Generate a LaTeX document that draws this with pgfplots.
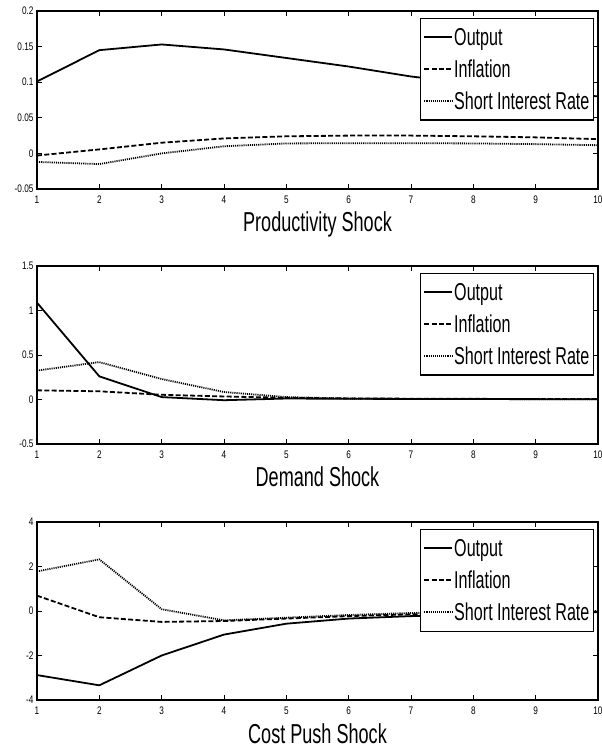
\documentclass[border=0pt]{standalone}
\usepackage{fontspec}
\setmainfont{Liberation Sans}[FakeStretch=0.66]
\newfontfamily\tickfont{Liberation Sans}[FakeStretch=0.75]
\usepackage{pgfplots}
\pgfplotsset{compat=1.18}
\pgfplotsset{
  irf/.style={
    scale only axis, width=561bp, height=178bp,
    xmin=1, xmax=10, xtick={1,...,10},
    xticklabels={1,2,3,4,5,6,7,8,9,10},
    tick align=inside, tick pos=both, major tick length=5bp,
    axis line style={line width=1.1pt}, every tick/.style={line width=0.7pt, black},
    ticklabel style={font=\tickfont\fontsize{11}{12}\selectfont},
    /pgf/number format/assume math mode=true,
    xticklabel style={yshift=-3bp},
    xlabel style={font=\fontsize{27.5}{28}\selectfont, at={(axis description cs:0.5,0)}, anchor=base, yshift=-43bp},
    legend style={at={(1,1)}, anchor=north east, xshift=-4bp, yshift=-7bp,
      draw=black, line width=1.1pt,
      font=\fontsize{24.5}{25}\selectfont, inner xsep=3bp, inner ysep=8bp,
      nodes={inner sep=1bp, text height=17.5bp, text depth=2bp},
      row sep=10.5bp, column sep=0bp, fill=white,
      every odd column/.style={column sep=-4bp}},
    legend cell align=left,
    legend image code/.code={\draw[#1] (0bp,0bp) -- (28bp,0bp);},
    clip=true,
  },
  outp/.style={black, line width=1.8pt, solid},
  infl/.style={black, line width=1.8pt, dash pattern=on 5bp off 2.3bp},
  rate/.style={black, line width=1.8pt, dash pattern=on 1.1bp off 1bp},
}
\begin{document}
\begin{tikzpicture}
\useasboundingbox (-37bp,-53bp) rectangle (565bp,700bp);
% Panel 1
\begin{axis}[irf, at={(0,511bp)},
  ymin=-0.05, ymax=0.2, ytick={-0.05,0,0.05,0.1,0.15,0.2},
  yticklabels={-0.05,0,0.05,0.1,0.15,0.2},
  xlabel={Productivity Shock}]
\addplot[outp] coordinates {(1,0.101) (2,0.145) (3,0.153) (4,0.146) (5,0.134) (6,0.122) (7,0.108) (8,0.098) (9,0.089) (10,0.080)};
\addplot[infl] coordinates {(1,-0.003) (2,0.0056) (3,0.015) (4,0.021) (5,0.024) (6,0.025) (7,0.025) (8,0.024) (9,0.0225) (10,0.020)};
\addplot[rate] coordinates {(1,-0.012) (2,-0.015) (3,0.000) (4,0.010) (5,0.014) (6,0.0143) (7,0.0143) (8,0.014) (9,0.013) (10,0.0115)};
\legend{Output, Inflation, Short Interest Rate}
\end{axis}
% Panel 2
\begin{axis}[irf, at={(0,256bp)},
  ymin=-0.5, ymax=1.5, ytick={-0.5,0,0.5,1,1.5},
  yticklabels={-0.5,0,0.5,1,1.5},
  xlabel={Demand Shock}]
\addplot[outp] coordinates {(1,1.088) (2,0.26) (3,0.027) (4,-0.008) (5,0.011) (6,0.008) (7,0.006) (8,0.005) (9,0.004) (10,0.003)};
\addplot[infl] coordinates {(1,0.103) (2,0.092) (3,0.053) (4,0.034) (5,0.019) (6,0.012) (7,0.009) (8,0.007) (9,0.006) (10,0.005)};
\addplot[rate] coordinates {(1,0.325) (2,0.42) (3,0.23) (4,0.084) (5,0.027) (6,0.01) (7,0.006) (8,0.005) (9,0.004) (10,0.003)};
\legend{Output, Inflation, Short Interest Rate}
\end{axis}
% Panel 3
\begin{axis}[irf, at={(0,0bp)},
  ymin=-4, ymax=4, ytick={-4,-2,0,2,4},
  yticklabels={-4,-2,0,2,4},
  xlabel={Cost Push Shock}]
\addplot[outp] coordinates {(1,-2.88) (2,-3.34) (3,-2.0) (4,-1.06) (5,-0.57) (6,-0.34) (7,-0.23) (8,-0.16) (9,-0.1) (10,-0.05)};
\addplot[infl] coordinates {(1,0.69) (2,-0.28) (3,-0.49) (4,-0.45) (5,-0.34) (6,-0.23) (7,-0.15) (8,-0.1) (9,-0.06) (10,-0.03)};
\addplot[rate] coordinates {(1,1.78) (2,2.32) (3,0.08) (4,-0.42) (5,-0.3) (6,-0.18) (7,-0.09) (8,-0.04) (9,-0.01) (10,0.0)};
\legend{Output, Inflation, Short Interest Rate}
\end{axis}
\end{tikzpicture}
\end{document}
